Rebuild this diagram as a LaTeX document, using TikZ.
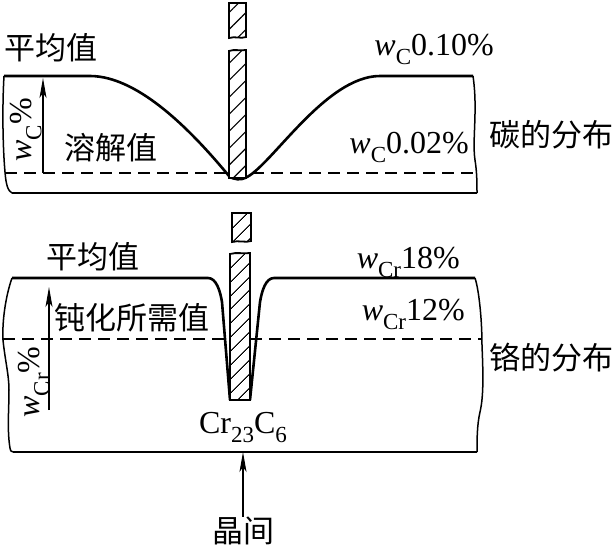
\documentclass[tikz,border=0pt]{standalone}
\usepackage{fontspec}
\setmainfont{Liberation Serif}
\newfontfamily\cjk{Noto Sans CJK SC}
\usetikzlibrary{arrows.meta,patterns.meta}
\newcommand\lsub[1]{\raisebox{-0.3em}{\fontsize{23}{23}\selectfont #1}}
\tikzset{
  lbl/.style={font=\fontsize{32}{34}\selectfont, inner sep=0pt},
  cn/.style={font=\cjk\fontsize{31}{33}\selectfont, inner sep=0pt},
  profile/.style={line width=2.6pt, line join=round},
  border/.style={line width=1.5pt},
  baseline/.style={line width=2.2pt},
  dline/.style={line width=1.4pt, dash pattern=on 12pt off 7pt},
  hbar/.style={line width=1.8pt, preaction={fill=white}},
  arr/.style={line width=1.2pt, -{Stealth[length=20pt,width=7pt,inset=5pt]}},
}
\begin{document}
\begin{tikzpicture}[x=1pt,y=-1pt]
\useasboundingbox (0,0) rectangle (614,547);

% ---------- top panel: carbon ----------
\draw[dline] (5,173) -- (475,173);
\draw[border] (4,76) .. controls (2,110) and (3,150) .. (5,172) .. controls (6,185) and (8,191) .. (12,193);
\draw[border] (473,76) .. controls (478,110) and (472,140) .. (475,160) .. controls (477,172) and (477,185) .. (477,193);
\draw[baseline] (12,193) -- (477,193);
\draw[profile] (4,76) -- (90,76) .. controls (140,76) and (195,135) .. (229,176)
  .. controls (233,180) and (242,180) .. (245,178)
  .. controls (270,168) and (325,76) .. (380,76) -- (473,76);
\draw[hbar, pattern={Lines[angle=45,distance=12pt,line width=1.1pt]}]
  (229,3) -- (246,3) -- (246,37) .. controls (241,39) and (235,36) .. (229,38) -- cycle;
\draw[hbar, pattern={Lines[angle=45,distance=12pt,line width=1.1pt]}]
  (229,51) .. controls (234,49) and (240,51) .. (246,50) -- (246,178) -- (229,178) -- cycle;

\coordinate (a1s) at (43,173);
\coordinate (a1e) at (43,78);
\draw[arr] (a1s) -- (a1e);

\node[cn] (avg1) at (51,48) {平均值};
\node[cn] (sol) at (111,148) {溶解值};
\node[lbl, anchor=base east] (c10) at (494,55) {\textit{w}\lsub{C}0.10\%};
\node[lbl, anchor=base east] (c02) at (469,153) {\textit{w}\lsub{C}0.02\%};
\node[cn] (cdist) at (551,135) {碳的分布};
\node[lbl, rotate=90] (wc) at (26,130) {\textit{w}\lsub{C}\%};

% ---------- bottom panel: chromium ----------
\draw[dline] (3,339) -- (482,339);
\draw[border] (12,278) .. controls (6,295) and (2,320) .. (3,340) .. controls (5,360) and (9,375) .. (9,390)
  .. controls (9,410) and (7,430) .. (10,448) .. controls (10,450) and (11,452) .. (13,452);
\draw[border] (475,278) .. controls (479,290) and (482,320) .. (482,345) .. controls (483,370) and (484,395) .. (480,412)
  .. controls (477,425) and (477,440) .. (477,452);
\draw[baseline] (13,452) -- (477,452);
\draw[profile] (12,278) -- (208,278) .. controls (216,278) and (220,290) .. (222,302) -- (230,400);
\draw[profile] (250,400) -- (260,302) .. controls (262,290) and (266,278) .. (274,278) -- (475,278);
\draw[hbar, pattern={Lines[angle=45,distance=10.5pt,line width=1.1pt]}]
  (232,213) -- (251,213) -- (251,241) .. controls (246,243) and (238,240) .. (232,242) -- cycle;
\draw[hbar, pattern={Lines[angle=45,distance=10.5pt,line width=1.1pt]}]
  (230,254) .. controls (236,252) and (244,254) .. (250,253) -- (250,400) -- (230,400) -- cycle;

\coordinate (a2s) at (49,410);
\coordinate (a2e) at (49,287);
\draw[arr] (a2s) -- (a2e);

\node[cn] (avg2) at (93,257) {平均值};
\node[cn] (pass) at (132,318) {钝化所需值};
\node[lbl, anchor=base east] (cr18) at (460,268) {\textit{w}\lsub{Cr}18\%};
\node[lbl, anchor=base east] (cr12) at (465,320) {\textit{w}\lsub{Cr}12\%};
\node[cn] (crdist) at (551,358) {铬的分布};
\node[lbl, rotate=90] (wcr) at (34,382) {\textit{w}\lsub{Cr}\%};
\node[lbl, anchor=base] (carb) at (243,433) {Cr\lsub{23}C\lsub{6}};

\node[cn] (gb) at (243,531) {晶间};
\coordinate (gbtip) at (243,452);
\draw[arr] (gb.north) -- (gbtip);
\end{tikzpicture}
\end{document}
